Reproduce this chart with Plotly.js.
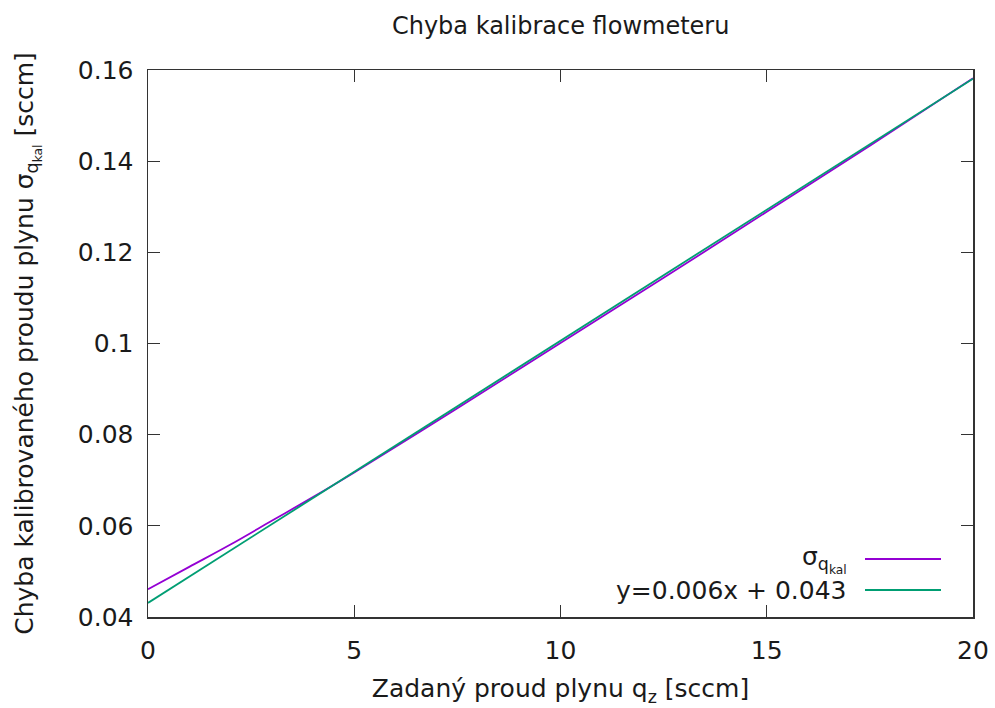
<!DOCTYPE html>
<html>
<head>
<meta charset="utf-8">
<script src="https://cdn.plot.ly/plotly-3.0.1.min.js"></script>
<style>
  html, body { margin: 0; padding: 0; background: #fff; }
  #chart { width: 995px; height: 708px; }
</style>
</head>
<body>
<div id="chart"></div>
<script>
// Calibration uncertainty of the flowmeter vs. set flow
const flowSet = [0, 1, 2, 3, 4, 5, 7.5, 10, 12.5, 15, 17.5, 20];
const sigmaKal = [0.0461, 0.0510, 0.0559, 0.0611, 0.0663, 0.0717, 0.0858, 0.1001, 0.1144, 0.1289, 0.1434, 0.1582];

// Linear fit y = 0.006x + 0.043 evaluated at the range ends
const fitX = [0, 20];
const fitY = [0.0431, 0.1581];

const seriesNames = ['σ<sub>q<sub>kal</sub></sub>', 'y=0.006x + 0.043'];
const seriesColors = ['#9400d3', '#009e73'];

const xTicks = [0, 5, 10, 15, 20];
const xTickText = ['0', '5', '10', '15', '20'];
const yTicks = [0.04, 0.06, 0.08, 0.1, 0.12, 0.14, 0.16];
const yTickText = ['0.04', '0.06', '0.08', '0.1', '0.12', '0.14', '0.16'];

const font = 'DejaVu Sans, Verdana, sans-serif';
const textColor = '#1a1a1a';
const axisColor = '#333333';
const fs = 25;

const traces = [
  { x: flowSet, y: sigmaKal, mode: 'lines', name: seriesNames[0],
    line: { color: seriesColors[0], width: 1.8, shape: 'spline' }, showlegend: false },
  { x: fitX, y: fitY, mode: 'lines', name: seriesNames[1],
    line: { color: seriesColors[1], width: 1.8 }, showlegend: false }
];

// gnuplot-style key: right-aligned labels with line samples to their right
const keyRowsY = [559, 590];
const annotations = [];
const shapes = [];
seriesNames.forEach(function (nm, i) {
  const yp = 1 - (keyRowsY[i] - 70) / (617 - 70);
  annotations.push({
    xref: 'paper', yref: 'paper', x: (849 - 148) / (973 - 148), y: yp,
    xanchor: 'right', yanchor: 'middle', showarrow: false, text: nm,
    font: { family: font, size: fs, color: textColor }
  });
  shapes.push({
    type: 'line', xref: 'paper', yref: 'paper',
    x0: (865 - 148) / (973 - 148), x1: (941 - 148) / (973 - 148), y0: yp, y1: yp,
    line: { color: seriesColors[i], width: 1.8 }
  });
});

const axisCommon = {
  showline: true, linecolor: axisColor, linewidth: 1.5, mirror: 'allticks',
  ticks: 'inside', ticklen: 12, tickwidth: 1.2, tickcolor: axisColor,
  showgrid: false, zeroline: false,
  tickfont: { family: font, size: fs, color: textColor }
};

const layout = {
  width: 995, height: 708,
  margin: { l: 148, r: 22, t: 70, b: 91 },
  paper_bgcolor: '#ffffff', plot_bgcolor: '#ffffff',
  title: {
    text: 'Chyba kalibrace flowmeteru',
    font: { family: font, size: 24, color: textColor },
    x: 0.5635, xanchor: 'center', y: 1 - 26 / 708, yanchor: 'middle'
  },
  xaxis: Object.assign({}, axisCommon, {
    range: [0, 20], tickvals: xTicks, ticktext: xTickText,
    ticklabelstandoff: 10,
    title: { text: 'Zadaný proud plynu q<sub>z</sub> [sccm]',
      font: { family: font, size: fs, color: textColor }, standoff: 16 }
  }),
  yaxis: Object.assign({}, axisCommon, {
    range: [0.04, 0.16], tickvals: yTicks, ticktext: yTickText,
    ticklabelstandoff: 8,
    title: { text: 'Chyba kalibrovaného proudu plynu σ<sub>q<sub>kal</sub></sub> [sccm]',
      font: { family: font, size: fs, color: textColor }, standoff: 37 }
  }),
  annotations: annotations,
  shapes: shapes
};

Plotly.newPlot('chart', traces, layout, { displayModeBar: false, staticPlot: true });
</script>
</body>
</html>
